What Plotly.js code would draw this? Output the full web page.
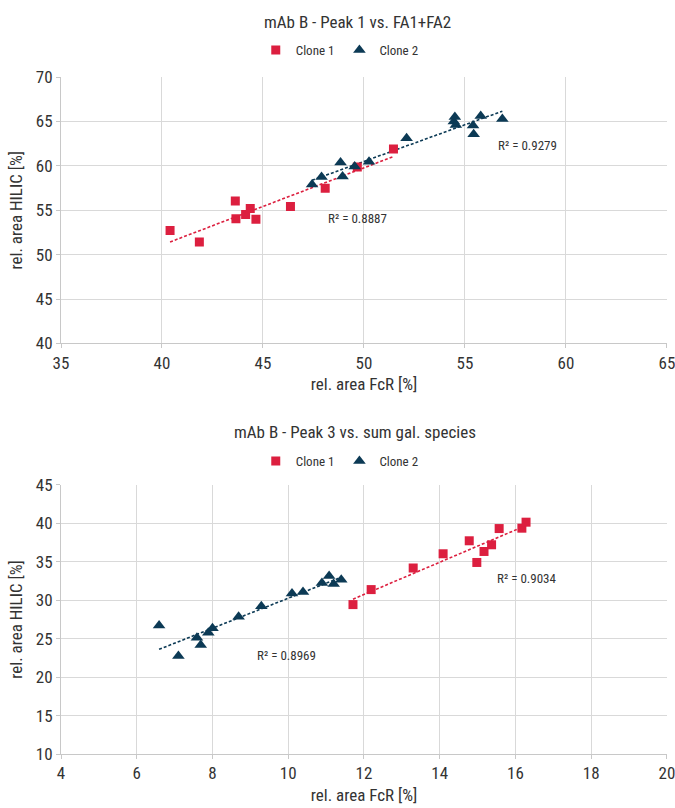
<!DOCTYPE html>
<html><head><meta charset="utf-8">
<script src="https://cdn.plot.ly/plotly-3.0.1.min.js"></script>
<style>html,body{margin:0;padding:0;background:#fff}</style>
</head><body><div id="chart" style="width:675px;height:808px"></div>
<script>
// ---- Chart 1: mAb B - Peak 1 vs. FA1+FA2 ----
const top_clone1_x = [40.40, 41.85, 43.63, 43.66, 44.14, 44.37, 44.65, 46.36, 48.08, 49.67, 51.46];
const top_clone1_y = [52.71, 51.43, 56.03, 54.03, 54.51, 55.19, 54.00, 55.42, 57.49, 59.86, 61.90];
const top_clone2_x = [47.43, 47.90, 48.84, 48.94, 49.54, 50.25, 52.11, 54.45, 54.50, 54.55, 55.40, 55.43, 55.78, 56.85];
const top_clone2_y = [57.90, 58.74, 60.38, 58.80, 59.92, 60.45, 63.12, 65.00, 65.50, 64.60, 64.55, 63.56, 65.60, 65.27];
const top_r2 = ["R² = 0.8887", "R² = 0.9279"];

// ---- Chart 2: mAb B - Peak 3 vs. sum gal. species ----
const bot_clone1_x = [11.71, 12.19, 13.30, 14.09, 14.78, 14.98, 15.17, 15.37, 15.57, 16.17, 16.28];
const bot_clone1_y = [29.44, 31.39, 34.20, 36.05, 37.74, 34.92, 36.35, 37.22, 39.33, 39.38, 40.16];
const bot_clone2_x = [6.59, 7.10, 7.59, 7.69, 7.89, 8.00, 8.69, 9.29, 10.10, 10.39, 10.89, 11.08, 11.20, 11.40];
const bot_clone2_y = [26.72, 22.75, 25.13, 24.17, 25.78, 26.37, 27.85, 29.22, 30.87, 31.09, 32.25, 33.16, 32.12, 32.68];
const bot_r2 = ["R² = 0.8969", "R² = 0.9034"];

const seriesNames = ["Clone 1", "Clone 2"];
const titles = ["mAb B - Peak 1 vs. FA1+FA2", "mAb B - Peak 3 vs. sum gal. species"];
const xTitle = "rel. area FcR [%]";
const yTitle = "rel. area HILIC [%]";

const RED = "#DC1F3F";
const NAVY = "#0C3A55";
const FONT = "'Roboto Condensed', 'Liberation Sans Narrow', 'DejaVu Sans Condensed', 'Arial Narrow', Roboto, sans-serif";
const TXT = "#333333";

function fit(xs, ys) {
  const n = xs.length;
  let sx = 0, sy = 0, sxx = 0, sxy = 0;
  for (let i = 0; i < n; i++) { sx += xs[i]; sy += ys[i]; sxx += xs[i]*xs[i]; sxy += xs[i]*ys[i]; }
  const b = (n*sxy - sx*sy) / (n*sxx - sx*sx);
  const a = (sy - b*sx) / n;
  const x0 = Math.min(...xs), x1 = Math.max(...xs);
  return {x: [x0, x1], y: [a + b*x0, a + b*x1]};
}

function scatter(x, y, name, color, symbol, size, xa, ya, leg) {
  return {type: "scatter", mode: "markers", x, y, name, xaxis: xa, yaxis: ya, legend: leg,
    marker: {color, symbol, size, line: {width: 0}}, showlegend: true};
}
function trend(xs, ys, color, xa, ya) {
  const f = fit(xs, ys);
  return {type: "scatter", mode: "lines", x: f.x, y: f.y, xaxis: xa, yaxis: ya, showlegend: false,
    hoverinfo: "skip", line: {color, width: 1.6, dash: "3px,2px"}};
}

const data = [
  trend(top_clone1_x, top_clone1_y, RED, "x", "y"),
  trend(top_clone2_x, top_clone2_y, NAVY, "x", "y"),
  scatter(top_clone1_x, top_clone1_y, seriesNames[0], RED, "square", 9, "x", "y", "legend"),
  scatter(top_clone2_x, top_clone2_y, seriesNames[1], NAVY, "triangle-up", 11, "x", "y", "legend"),
  trend(bot_clone1_x, bot_clone1_y, RED, "x2", "y2"),
  trend(bot_clone2_x, bot_clone2_y, NAVY, "x2", "y2"),
  scatter(bot_clone1_x, bot_clone1_y, seriesNames[0], RED, "square", 9, "x2", "y2", "legend2"),
  scatter(bot_clone2_x, bot_clone2_y, seriesNames[1], NAVY, "triangle-up", 11, "x2", "y2", "legend2")
];

const axBase = {
  showgrid: true, gridcolor: "#d9d9d9", gridwidth: 1,
  showline: true, linecolor: "#c8c8c8", linewidth: 1,
  ticks: "outside", ticklen: 4, tickcolor: "#c8c8c8",
  zeroline: false, tickfont: {family: FONT, size: 17, color: TXT},
  ticklabeloverflow: "allow", fixedrange: true
};
const legBase = {orientation: "h", xanchor: "center", x: 0.46, yanchor: "middle",
  font: {family: FONT, size: 13, color: TXT}, bgcolor: "rgba(0,0,0,0)", itemwidth: 30, traceorder: "normal"};

const layout = {
  width: 675, height: 808,
  margin: {l: 61, r: 8, t: 0, b: 0},
  paper_bgcolor: "#fff", plot_bgcolor: "#fff",
  showlegend: true,
  font: {family: FONT, color: TXT},
  xaxis: Object.assign({}, axBase, {domain: [0, 1], range: [35, 65.002], tick0: 35, dtick: 5, anchor: "y",
    title: {text: xTitle, font: {family: FONT, size: 17, color: TXT}, standoff: 6}}),
  yaxis: Object.assign({}, axBase, {domain: [0.5749, 0.9047], range: [40, 70.002], dtick: 5, anchor: "x",
    title: {text: yTitle, font: {family: FONT, size: 17, color: TXT}, standoff: 8}}),
  xaxis2: Object.assign({}, axBase, {domain: [0, 1], range: [4, 20.002], tick0: 4, dtick: 2, anchor: "y2",
    title: {text: xTitle, font: {family: FONT, size: 17, color: TXT}, standoff: 6}}),
  yaxis2: Object.assign({}, axBase, {domain: [0.0668, 0.3998], range: [10, 45.002], dtick: 5, anchor: "x2",
    title: {text: yTitle, font: {family: FONT, size: 17, color: TXT}, standoff: 8}}),
  legend: Object.assign({}, legBase, {y: 1 - 50/808}),
  legend2: Object.assign({}, legBase, {y: 1 - 461/808}),
  annotations: [
    {text: titles[0], xref: "paper", yref: "paper", x: 0.49, y: 1 - 22/808, xanchor: "center", yanchor: "middle",
      showarrow: false, font: {family: FONT, size: 17, color: TXT}},
    {text: titles[1], xref: "paper", yref: "paper", x: 0.485, y: 1 - 432/808, xanchor: "center", yanchor: "middle",
      showarrow: false, font: {family: FONT, size: 17, color: TXT}},
    {text: top_r2[0], xref: "x", yref: "y", x: 49.7, y: 54.1, showarrow: false, font: {family: FONT, size: 13, color: TXT}},
    {text: top_r2[1], xref: "x", yref: "y", x: 58.1, y: 62.3, showarrow: false, font: {family: FONT, size: 13, color: TXT}},
    {text: bot_r2[0], xref: "x2", yref: "y2", x: 9.95, y: 22.8, showarrow: false, font: {family: FONT, size: 13, color: TXT}},
    {text: bot_r2[1], xref: "x2", yref: "y2", x: 16.3, y: 32.8, showarrow: false, font: {family: FONT, size: 13, color: TXT}}
  ]
};

Plotly.newPlot("chart", data, layout, {displayModeBar: false, staticPlot: true});
</script>
</body></html>
